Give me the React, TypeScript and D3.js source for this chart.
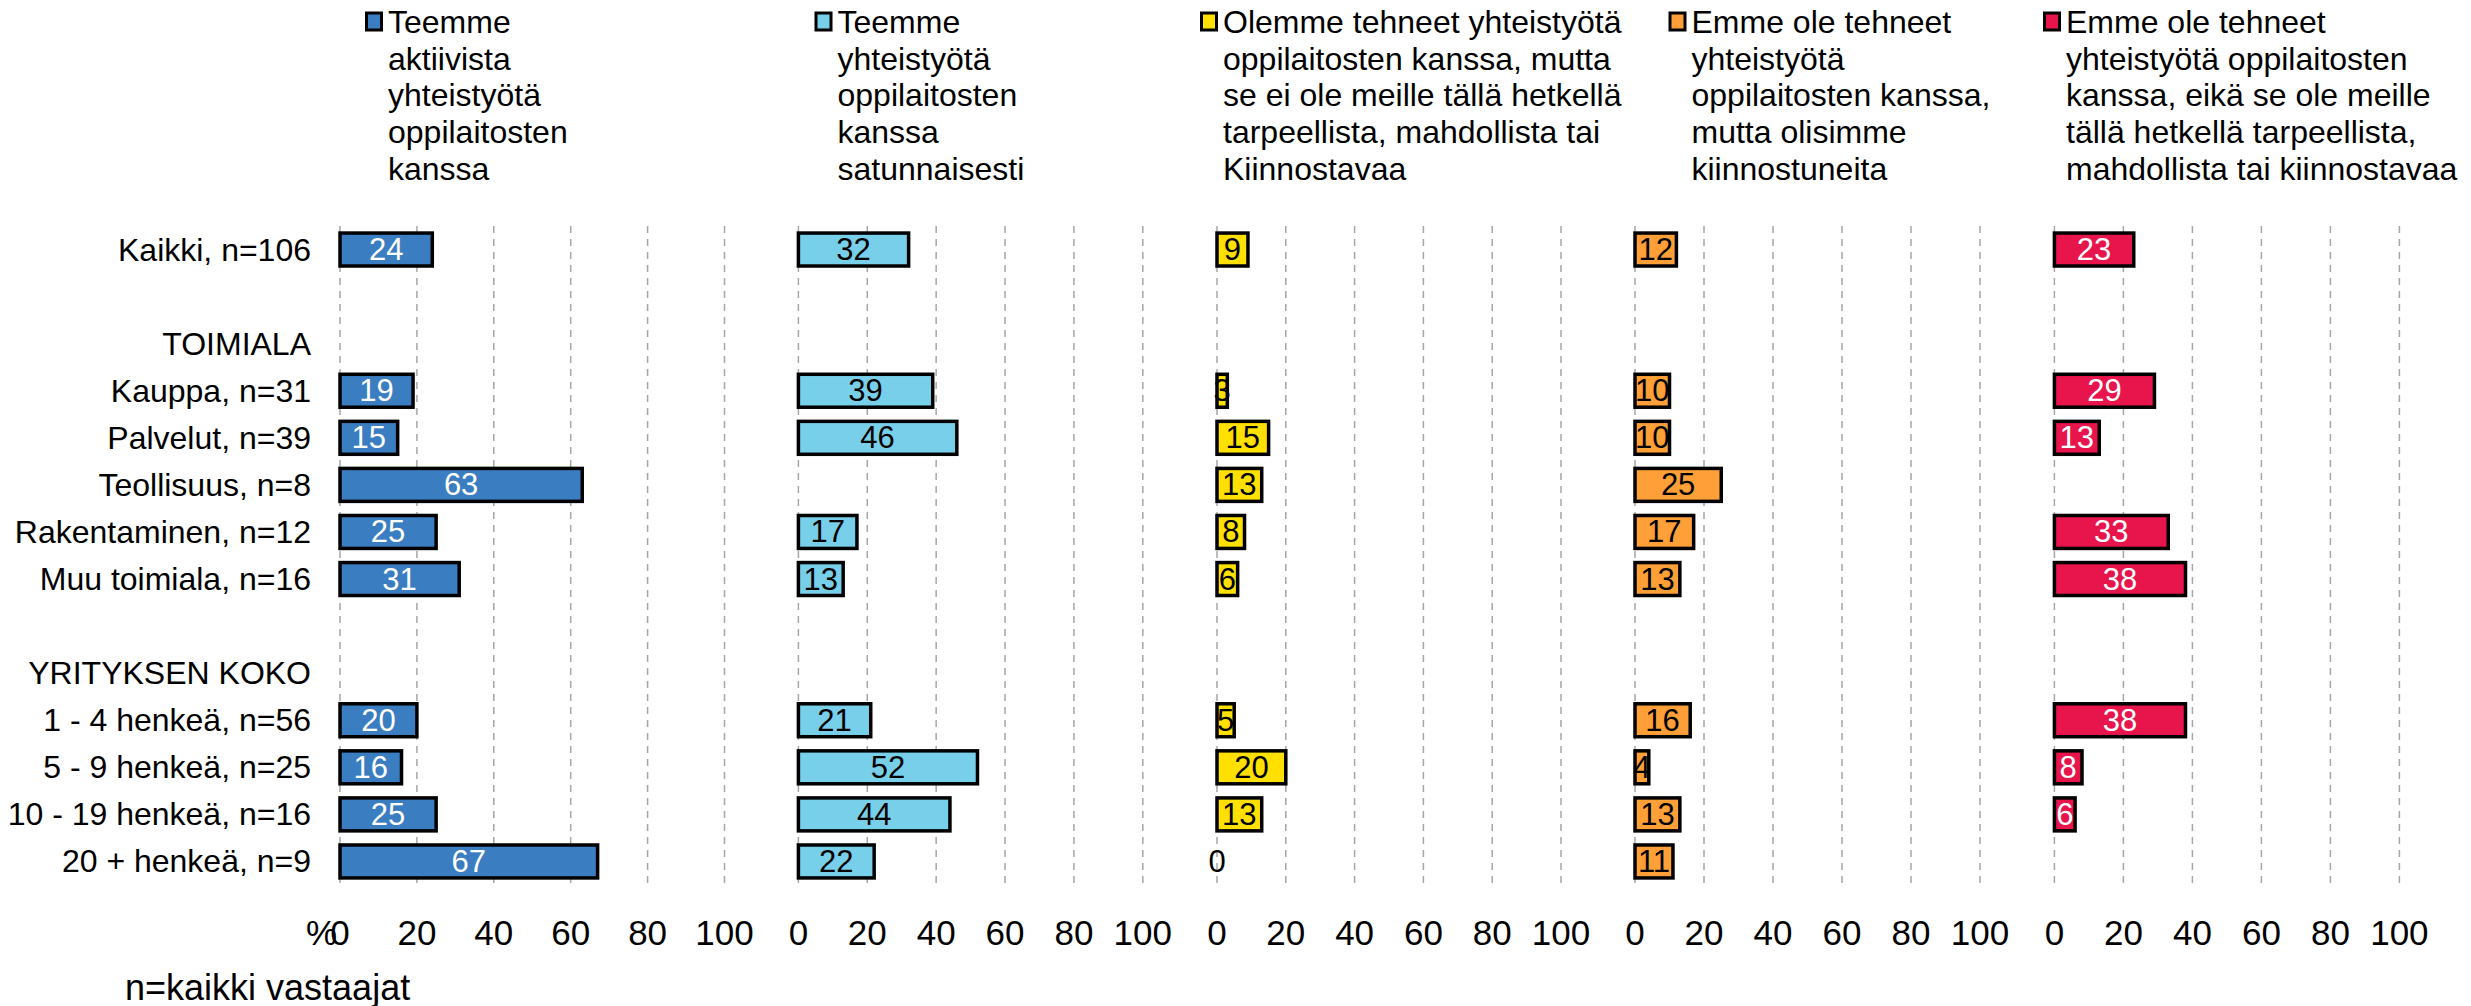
import React, { useEffect, useRef } from "react";
import * as d3 from "d3";

// rows of the chart, "" = empty spacer row, headers have no values
const rows = [
  "Kaikki, n=106",
  "",
  "TOIMIALA",
  "Kauppa, n=31",
  "Palvelut, n=39",
  "Teollisuus, n=8",
  "Rakentaminen, n=12",
  "Muu toimiala, n=16",
  "",
  "YRITYKSEN KOKO",
  "1 - 4 henkeä, n=56",
  "5 - 9 henkeä, n=25",
  "10 - 19 henkeä, n=16",
  "20 + henkeä, n=9",
];

// values per data row (Kaikki, Kauppa, Palvelut, Teollisuus, Rakentaminen, Muu, 1-4, 5-9, 10-19, 20+)
const dataRows = [0, 3, 4, 5, 6, 7, 10, 11, 12, 13];
const aktiivisesti = [24, 19, 15, 63, 25, 31, 20, 16, 25, 67];
const satunnaisesti = [32, 39, 46, null, 17, 13, 21, 52, 44, 22];
const eiTarpeellista = [9, 3, 15, 13, 8, 6, 5, 20, 13, 0];
const kiinnostuneita = [12, 10, 10, 25, 17, 13, 16, 4, 13, 11];
const eiKiinnostavaa = [23, 29, 13, null, 33, 38, 38, 8, 6, null];

const seriesValues = [aktiivisesti, satunnaisesti, eiTarpeellista, kiinnostuneita, eiKiinnostavaa];

const legendLines = [
  ["Teemme", "aktiivista", "yhteistyötä", "oppilaitosten", "kanssa"],
  ["Teemme", "yhteistyötä", "oppilaitosten", "kanssa", "satunnaisesti"],
  ["Olemme tehneet yhteistyötä", "oppilaitosten kanssa, mutta", "se ei ole meille tällä hetkellä", "tarpeellista, mahdollista tai", "Kiinnostavaa"],
  ["Emme ole tehneet", "yhteistyötä", "oppilaitosten kanssa,", "mutta olisimme", "kiinnostuneita"],
  ["Emme ole tehneet", "yhteistyötä oppilaitosten", "kanssa, eikä se ole meille", "tällä hetkellä tarpeellista,", "mahdollista tai kiinnostavaa"],
];

const ticks = [0, 20, 40, 60, 80, 100];

const colors = ["#3a7dc0", "#78cfea", "#ffe000", "#ff9f38", "#e8144c"];
const labelColors = ["#ffffff", "#000000", "#000000", "#000000", "#ffffff"];

const width = 2471;
const height = 1006;
const panelX = [340, 798.4, 1217, 1635, 2054.4];
const panelW = [384.5, 344.4, 344, 345, 345];
const legendX = [365, 814.5, 1200, 1668.5, 2043];
const font = "'Liberation Sans', Arial, sans-serif";

export default function App() {
  const ref = useRef(null);

  useEffect(() => {
    document.body.style.margin = "0";
    const svg = d3.select(ref.current);
    svg.selectAll("*").remove();

    const y = d3.scaleBand()
      .domain(rows.map((d, i) => String(i)))
      .range([226, 885])
      .paddingInner(0.3)
      .paddingOuter(0.15);

    // category labels
    svg.append("g")
      .selectAll("text")
      .data(rows)
      .enter()
      .append("text")
      .attr("x", 311)
      .attr("y", (d, i) => y(String(i)) + y.bandwidth() / 2)
      .attr("text-anchor", "end")
      .attr("dominant-baseline", "central")
      .attr("font-family", font)
      .attr("font-size", 32)
      .attr("fill", "#000")
      .text((d) => d);

    seriesValues.forEach((values, s) => {
      const x = d3.scaleLinear().domain([0, 100]).range([panelX[s], panelX[s] + panelW[s]]);
      const g = svg.append("g");

      g.selectAll("line")
        .data(ticks)
        .enter()
        .append("line")
        .attr("x1", (d) => x(d))
        .attr("x2", (d) => x(d))
        .attr("y1", 226)
        .attr("y2", 885)
        .attr("stroke", "#a6a6a6")
        .attr("stroke-width", 1.5)
        .attr("stroke-dasharray", "7,6");

      g.selectAll(".tick")
        .data(ticks)
        .enter()
        .append("text")
        .attr("x", (d) => x(d))
        .attr("y", 932)
        .attr("text-anchor", "middle")
        .attr("dominant-baseline", "central")
        .attr("font-family", font)
        .attr("font-size", 35)
        .text((d) => d);

      const items = values
        .map((v, i) => ({ v, row: dataRows[i] }))
        .filter((d) => d.v !== null);

      g.selectAll("rect")
        .data(items.filter((d) => d.v > 0))
        .enter()
        .append("rect")
        .attr("x", x(0))
        .attr("y", (d) => y(String(d.row)))
        .attr("width", (d) => x(d.v) - x(0))
        .attr("height", y.bandwidth())
        .attr("fill", colors[s])
        .attr("stroke", "#000")
        .attr("stroke-width", 3.5);

      g.selectAll(".val")
        .data(items)
        .enter()
        .append("text")
        .attr("x", (d) => x(d.v / 2))
        .attr("y", (d) => y(String(d.row)) + y.bandwidth() / 2)
        .attr("text-anchor", "middle")
        .attr("dominant-baseline", "central")
        .attr("font-family", font)
        .attr("font-size", 31)
        .attr("fill", (d) => (d.v > 0 ? labelColors[s] : "#000"))
        .text((d) => d.v);

      // legend
      const lg = svg.append("g");
      lg.append("rect")
        .attr("x", legendX[s] + 1.5)
        .attr("y", 13)
        .attr("width", 15)
        .attr("height", 17)
        .attr("fill", colors[s])
        .attr("stroke", "#000")
        .attr("stroke-width", 3);
      lg.append("text")
        .attr("font-family", font)
        .attr("font-size", 32)
        .selectAll("tspan")
        .data(legendLines[s])
        .enter()
        .append("tspan")
        .attr("x", legendX[s] + 23)
        .attr("y", (d, i) => 22 + i * 36.7)
        .attr("dominant-baseline", "central")
        .text((d) => d);
    });

    svg.append("text")
      .attr("x", 337)
      .attr("y", 932)
      .attr("text-anchor", "end")
      .attr("dominant-baseline", "central")
      .attr("font-family", font)
      .attr("font-size", 35)
      .text("%");

    svg.append("text")
      .attr("x", 125)
      .attr("y", 987)
      .attr("dominant-baseline", "central")
      .attr("font-family", font)
      .attr("font-size", 36)
      .text("n=kaikki vastaajat");
  }, []);

  return (
    <div style={{ position: "absolute", left: 0, top: 0 }}>
      <svg ref={ref} width={width} height={height} style={{ display: "block", background: "#fff" }} />
    </div>
  );
}
